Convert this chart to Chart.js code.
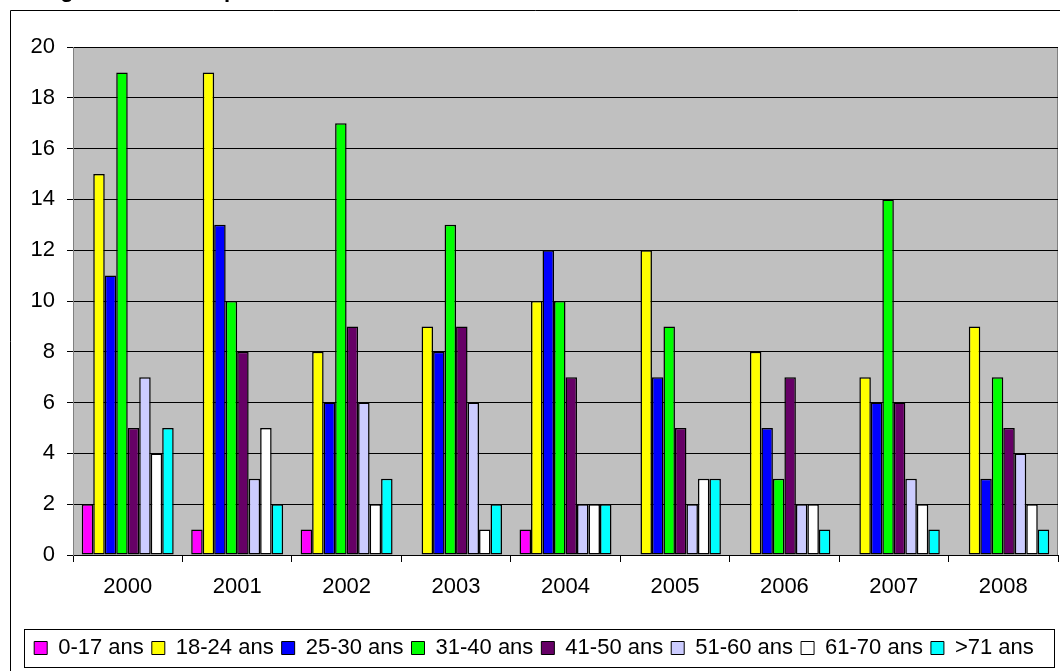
<!DOCTYPE html>
<html>
<head>
<meta charset="utf-8">
<script src="https://cdn.jsdelivr.net/npm/chart.js@4/dist/chart.umd.min.js"></script>
<style>
  html, body { margin: 0; padding: 0; background: #fff; }
  #wrap { position: relative; width: 1060px; height: 671px; overflow: hidden; }
</style>
</head>
<body>
<div id="wrap"><canvas id="ageChart" width="1060" height="671"></canvas></div>
<script>
// Years on the x axis
const years = ['2000', '2001', '2002', '2003', '2004', '2005', '2006', '2007', '2008'];

// Age groups (one series each)
const ages0to17 = [2, 1, 1, 0, 1, 0, 0, 0, 0];
const ages18to24 = [15, 19, 8, 9, 10, 12, 8, 7, 9];
const ages25to30 = [11, 13, 6, 8, 12, 7, 5, 6, 3];
const ages31to40 = [19, 10, 17, 13, 10, 9, 3, 14, 7];
const ages41to50 = [5, 8, 9, 9, 7, 5, 7, 6, 5];
const ages51to60 = [7, 3, 6, 6, 2, 2, 2, 3, 4];
const ages61to70 = [4, 5, 2, 1, 2, 3, 2, 2, 2];
const ages71plus = [5, 2, 3, 2, 2, 3, 1, 1, 1];

const seriesLabels = ['0-17 ans', '18-24 ans', '25-30 ans', '31-40 ans', '41-50 ans', '51-60 ans', '61-70 ans', '>71 ans'];
const seriesColors = ['#ff00ff', '#ffff00', '#0000ff', '#00ff00', '#660066', '#ccccff', '#ffffff', '#00ffff'];
const yTicks = [0, 2, 4, 6, 8, 10, 12, 14, 16, 18, 20];

// title is cut off at the top of the picture, only descenders show
const titleText = 'Les âges des clients par année';

const FONT = '"Liberation Sans", Arial, sans-serif';

// grey plot area + frame + legend box + clipped title
const excelLook = {
    id: 'excelLook',
    beforeDraw(chart) {
        const c = chart.ctx;
        const a = chart.chartArea;
        c.save();
        c.fillStyle = '#000';
        c.font = 'bold 22px ' + FONT;
        c.textBaseline = 'alphabetic';
        c.fillText(titleText, 4, -3);
        // outer frame
        c.strokeStyle = '#000';
        c.lineWidth = 1;
        c.beginPath();
        c.moveTo(10.5, 700);
        c.lineTo(10.5, 10.5);
        c.lineTo(1100, 10.5);
        c.stroke();
        // plot area
        c.fillStyle = '#c0c0c0';
        c.fillRect(a.left, a.top, a.right - a.left, a.bottom - a.top);
        c.strokeStyle = '#808080';
        c.beginPath();
        c.moveTo(a.left, a.top + 0.5);
        c.lineTo(a.right - 0.5, a.top + 0.5);
        c.lineTo(a.right - 0.5, a.bottom);
        c.stroke();
        c.restore();
    },
    afterDraw(chart) {
        const lg = chart.legend;
        if (!lg || !lg.legendHitBoxes.length) return;
        const c = chart.ctx;
        c.save();
        c.strokeStyle = '#000';
        c.lineWidth = 1;
        c.strokeRect(24.5, lg.top + 0.5, 1030, 38);
        c.restore();
    }
};

const datasets = [ages0to17, ages18to24, ages25to30, ages31to40, ages41to50, ages51to60, ages61to70, ages71plus]
    .map((vals, i) => ({
        label: seriesLabels[i],
        data: vals,
        backgroundColor: seriesColors[i],
        borderColor: '#000',
        borderWidth: 1.5,
        borderSkipped: false,
        categoryPercentage: 0.84,
        barPercentage: 1.0
    }));

new Chart(document.getElementById('ageChart'), {
    type: 'bar',
    data: { labels: years, datasets: datasets },
    options: {
        responsive: false,
        animation: false,
        layout: { padding: { left: 10, right: 2, top: 47, bottom: 2 } },
        plugins: {
            title: { display: false },
            tooltip: { enabled: false },
            legend: {
                position: 'bottom',
                labels: {
                    color: '#000',
                    boxWidth: 13,
                    boxHeight: 13,
                    padding: 8,
                    font: { family: FONT, size: 22 },
                    generateLabels(chart) {
                        return chart.data.datasets.map((ds, i) => ({
                            text: ds.label,
                            fillStyle: ds.backgroundColor,
                            strokeStyle: '#000',
                            lineWidth: 1,
                            datasetIndex: i,
                            hidden: false,
                            fontColor: '#000'
                        }));
                    }
                }
            }
        },
        scales: {
            x: {
                grid: {
                    drawOnChartArea: false,
                    drawTicks: true,
                    tickLength: 7,
                    color: '#000',
                    offset: true
                },
                border: { color: '#000', width: 1 },
                ticks: {
                    color: '#000',
                    padding: 12,
                    font: { family: FONT, size: 22 }
                },
                afterFit(scale) { scale.height = 74; }
            },
            y: {
                min: 0,
                max: 20,
                afterBuildTicks(scale) { scale.ticks = yTicks.map(v => ({ value: v })); },
                grid: {
                    color: '#000',
                    lineWidth: 1,
                    tickLength: 6
                },
                border: { color: '#808080', width: 1 },
                ticks: {
                    color: '#000',
                    padding: 12,
                    font: { family: FONT, size: 22 }
                },
                afterFit(scale) { scale.width = 63; }
            }
        }
    },
    plugins: [excelLook]
});
</script>
</body>
</html>
